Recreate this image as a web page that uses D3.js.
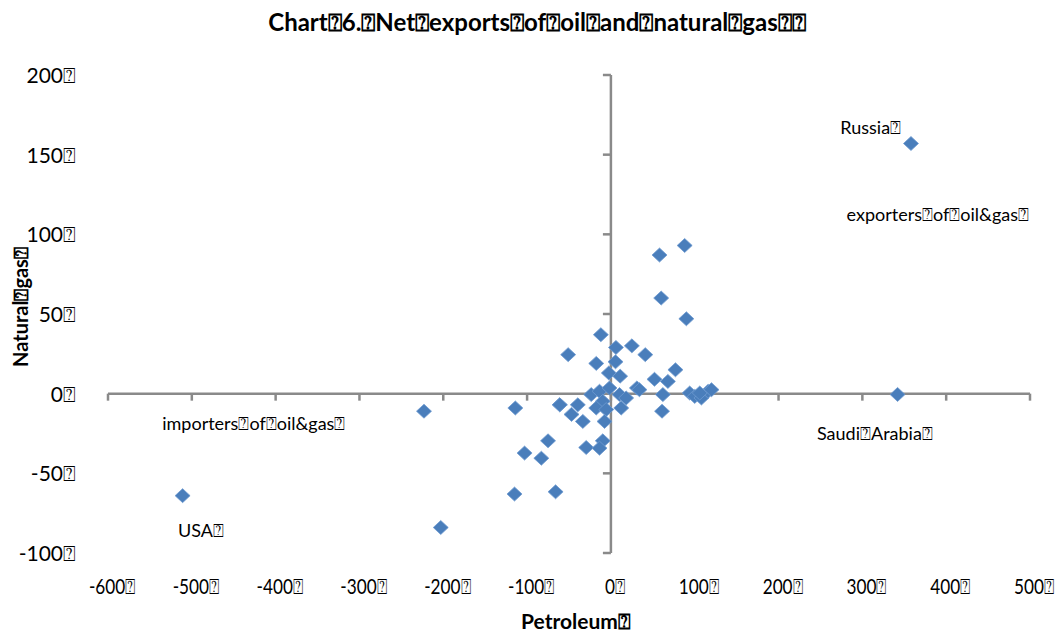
<!DOCTYPE html>
<html><head><meta charset="utf-8">
<script src="https://cdn.jsdelivr.net/npm/d3@7"></script>
<style>
body{margin:0;background:#fff;}
text{font-family:Lato,"Open Sans",sans-serif;fill:#000;}
</style></head>
<body><svg id="c" width="1064" height="633"></svg>
<script>
const B = "\u2370";
const petroleum = [358, 342, -511, -203, -223, -114, -115, -66, -103, -83, -75, -51, -61, -12, 58, 88, 60, 90, 25, 41, 77, 6, 5.5, -17.5, -2.5, 11, 52, 68, 62, 61, 31, 34, 94, 100, 108, 116, 120, 106, -61, -39.5, -47, -33.5, -23.5, -13.6, -1.7, 10.3, 18.2, -9.7, -17.5, -5.6, 12.3, -7.6, -9.7, -29.5, -13.6];
const naturalGas = [157, -0.5, -64, -84, -11, -9, -63, -61.6, -37.3, -40.5, -29.6, 24.5, -7, 37, 87, 93, 60, 47, 30, 24.5, 15, 29, 20, 19, 13, 11, 9, 7.7, -0.6, -11, 3.6, 2.5, 0.4, -1.7, -2.7, 1.5, 2.5, 0.4, -7, -7, -13, -17.4, -0.6, 1.5, 3.6, -0.6, -2.7, -4.8, -9, -10, -9, -17.4, -29.6, -33.8, -34.2];
const xTicks = [-600, -500, -400, -300, -200, -100, 0, 100, 200, 300, 400, 500];
const yTicks = [-100, -50, 0, 50, 100, 150, 200];
const annText = ["Russia"+B, "exporters"+B+"of"+B+"oil&gas"+B, "importers"+B+"of"+B+"oil&gas"+B, "USA"+B, "Saudi"+B+"Arabia"+B];
const annX = [310, 390, -426, -489, 315];
const annY = [163, 108.6, -22.6, -90, -29];
const title = "Chart"+B+"6."+B+"Net"+B+"exports"+B+"of"+B+"oil"+B+"and"+B+"natural"+B+"gas"+B+B;

const svg = d3.select("#c");
const x = d3.scaleLinear().domain([-600, 500]).range([108, 1030]);
const y = d3.scaleLinear().domain([-100, 200]).range([553, 75]);
const axisColor = "#8a8a8a";

// title
svg.append("text").attr("x", 537).attr("y", 31).attr("text-anchor", "middle")
  .style("font-weight", "bold").style("font-size", "24px").text(title);

// horizontal axis at y=0
const gx = svg.append("g");
gx.append("line").attr("x1", x(-600)).attr("x2", x(500)).attr("y1", y(0)).attr("y2", y(0))
  .attr("stroke", axisColor).attr("stroke-width", 2.5);
gx.selectAll("line.t").data(xTicks).enter().append("line").attr("class", "t")
  .attr("x1", d => x(d)).attr("x2", d => x(d)).attr("y1", y(0)).attr("y2", y(0) + 7)
  .attr("stroke", axisColor).attr("stroke-width", 2.5);
// vertical axis at x=0
const gy = svg.append("g");
gy.append("line").attr("x1", x(0)).attr("x2", x(0)).attr("y1", y(-100)).attr("y2", y(200))
  .attr("stroke", axisColor).attr("stroke-width", 2.5);
gy.selectAll("line.t").data(yTicks).enter().append("line").attr("class", "t")
  .attr("x1", x(0) - 8).attr("x2", x(0)).attr("y1", d => y(d)).attr("y2", d => y(d))
  .attr("stroke", axisColor).attr("stroke-width", 2.5);

// tick labels (low position)
svg.selectAll("text.xt").data(xTicks).enter().append("text").attr("class", "xt")
  .attr("transform", d => `translate(${x(d) + 4},594) scale(0.82,1)`).attr("text-anchor", "middle")
  .style("font-size", "21px").text(d => d + B);
svg.selectAll("text.yt").data(yTicks).enter().append("text").attr("class", "yt")
  .attr("x", 76).attr("y", d => y(d) + 8).attr("text-anchor", "end")
  .style("font-size", "21px").text(d => d + B);

// axis titles
svg.append("text").attr("x", 576).attr("y", 629).attr("text-anchor", "middle")
  .style("font-weight", "bold").style("font-size", "21px").text("Petroleum" + B);
svg.append("text").attr("transform", "translate(28,307) rotate(-90)").attr("text-anchor", "middle")
  .style("font-weight", "bold").style("font-size", "20px").text("Natural" + B + "gas" + B);

// points
svg.append("g").selectAll("path").data(petroleum.map((p, i) => [p, naturalGas[i]])).enter()
  .append("path")
  .attr("d", d => { const cx = x(d[0]), cy = y(d[1]);
    return `M${cx-7.5},${cy}L${cx},${cy-7}L${cx+7.5},${cy}L${cx},${cy+7}Z`; })
  .attr("fill", "#4a7ebb").attr("stroke", "#6f9bd0").attr("stroke-width", 0.8);

// annotations
svg.selectAll("text.ann").data(annText).enter().append("text").attr("class", "ann")
  .attr("x", (d, i) => x(annX[i])).attr("y", (d, i) => y(annY[i]))
  .attr("text-anchor", "middle").style("font-size", "18px").text(d => d);
</script></body></html>
